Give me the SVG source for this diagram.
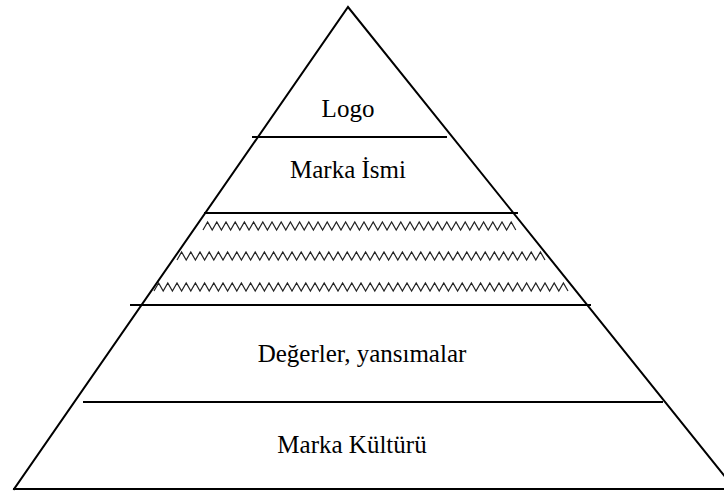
<svg xmlns="http://www.w3.org/2000/svg" width="724" height="491" viewBox="0 0 724 491">
<style>
.ln{stroke:#000;stroke-width:2;fill:none;stroke-linecap:square}
.zz{stroke:#222;stroke-width:1.2;fill:none}
.t{font-family:"Liberation Serif","Times New Roman",serif;font-size:25px;fill:#000;text-anchor:middle}
</style>
<rect width="724" height="491" fill="#fff"/>
<g id="connectors">
<polyline class="ln" points="14,489 348,7 735,489"/>
<line class="ln" x1="14" y1="489" x2="724" y2="489"/>
<line class="ln" x1="253" y1="137" x2="446" y2="137"/>
<line class="ln" x1="205" y1="213" x2="517" y2="213"/>
<line class="ln" x1="131" y1="305" x2="590" y2="305"/>
<line class="ln" x1="84" y1="402" x2="662" y2="402"/>
</g>
<g id="zigzag">
<path class="zz" d="M203,230 l
4.6,-8 4.6,8 4.6,-8 4.6,8 4.6,-8 4.6,8 4.6,-8 4.6,8 4.6,-8 4.6,8
4.6,-8 4.6,8 4.6,-8 4.6,8 4.6,-8 4.6,8 4.6,-8 4.6,8 4.6,-8 4.6,8
4.6,-8 4.6,8 4.6,-8 4.6,8 4.6,-8 4.6,8 4.6,-8 4.6,8 4.6,-8 4.6,8
4.6,-8 4.6,8 4.6,-8 4.6,8 4.6,-8 4.6,8 4.6,-8 4.6,8 4.6,-8 4.6,8
4.6,-8 4.6,8 4.6,-8 4.6,8 4.6,-8 4.6,8 4.6,-8 4.6,8 4.6,-8 4.6,8
4.6,-8 4.6,8 4.6,-8 4.6,8 4.6,-8 4.6,8 4.6,-8 4.6,8 4.6,-8 4.6,8
4.6,-8 4.6,8 4.6,-8 4.6,8 4.6,-8 4.6,8 4.6,-8 4.6,8"/>
<path class="zz" d="M177,260 l
4.6,-8 4.6,8 4.6,-8 4.6,8 4.6,-8 4.6,8 4.6,-8 4.6,8 4.6,-8 4.6,8
4.6,-8 4.6,8 4.6,-8 4.6,8 4.6,-8 4.6,8 4.6,-8 4.6,8 4.6,-8 4.6,8
4.6,-8 4.6,8 4.6,-8 4.6,8 4.6,-8 4.6,8 4.6,-8 4.6,8 4.6,-8 4.6,8
4.6,-8 4.6,8 4.6,-8 4.6,8 4.6,-8 4.6,8 4.6,-8 4.6,8 4.6,-8 4.6,8
4.6,-8 4.6,8 4.6,-8 4.6,8 4.6,-8 4.6,8 4.6,-8 4.6,8 4.6,-8 4.6,8
4.6,-8 4.6,8 4.6,-8 4.6,8 4.6,-8 4.6,8 4.6,-8 4.6,8 4.6,-8 4.6,8
4.6,-8 4.6,8 4.6,-8 4.6,8 4.6,-8 4.6,8 4.6,-8 4.6,8 4.6,-8 4.6,8
4.6,-8 4.6,8 4.6,-8 4.6,8 4.6,-8 4.6,8 4.6,-8 4.6,8 4.6,-8 4.6,8"/>
<path class="zz" d="M154,291 l
4.6,-8 4.6,8 4.6,-8 4.6,8 4.6,-8 4.6,8 4.6,-8 4.6,8 4.6,-8 4.6,8
4.6,-8 4.6,8 4.6,-8 4.6,8 4.6,-8 4.6,8 4.6,-8 4.6,8 4.6,-8 4.6,8
4.6,-8 4.6,8 4.6,-8 4.6,8 4.6,-8 4.6,8 4.6,-8 4.6,8 4.6,-8 4.6,8
4.6,-8 4.6,8 4.6,-8 4.6,8 4.6,-8 4.6,8 4.6,-8 4.6,8 4.6,-8 4.6,8
4.6,-8 4.6,8 4.6,-8 4.6,8 4.6,-8 4.6,8 4.6,-8 4.6,8 4.6,-8 4.6,8
4.6,-8 4.6,8 4.6,-8 4.6,8 4.6,-8 4.6,8 4.6,-8 4.6,8 4.6,-8 4.6,8
4.6,-8 4.6,8 4.6,-8 4.6,8 4.6,-8 4.6,8 4.6,-8 4.6,8 4.6,-8 4.6,8
4.6,-8 4.6,8 4.6,-8 4.6,8 4.6,-8 4.6,8 4.6,-8 4.6,8 4.6,-8 4.6,8
4.6,-8 4.6,8 4.6,-8 4.6,8 4.6,-8 4.6,8 4.6,-8 4.6,8 4.6,-8 4.6,8"/>
</g>
<g id="node-logo"><text class="t" x="348" y="117">Logo</text></g>
<g id="node-marka-ismi"><text class="t" x="348" y="178">Marka İsmi</text></g>
<g id="node-degerler"><text class="t" x="362" y="362">Değerler, yansımalar</text></g>
<g id="node-marka-kulturu"><text class="t" x="352" y="453">Marka Kültürü</text></g>
</svg>
